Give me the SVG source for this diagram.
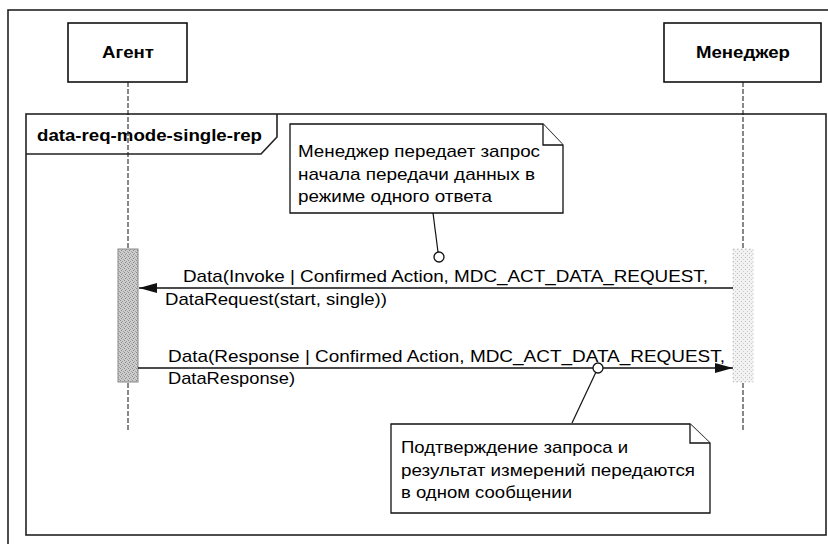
<svg xmlns="http://www.w3.org/2000/svg" width="828" height="544" viewBox="0 0 828 544">
<style>
.frame{fill:none;stroke:#222;stroke-width:1.6}
.box{fill:#fff;stroke:#111;stroke-width:1.6}
.life{stroke:#111;stroke-width:1;stroke-dasharray:5 2;fill:none}
.msg{stroke:#111;stroke-width:1.4;fill:none}
.note{fill:#fff;stroke:#111;stroke-width:1.3}
.lbl{font-family:"Liberation Sans",Arial,sans-serif;font-size:17px;fill:#000}
.bold{font-family:"Liberation Sans",Arial,sans-serif;font-size:16px;font-weight:bold;fill:#000}
.anchor{fill:#fff;stroke:#111;stroke-width:1.3}
.link{stroke:#111;stroke-width:1.2;fill:none}
</style>
<defs>
<pattern id="hatch" width="4" height="4" patternUnits="userSpaceOnUse">
<rect width="4" height="4" fill="#cdcdcd"/>
<rect x="0" y="0" width="1" height="1" fill="#8a8a8a"/>
<rect x="2" y="1" width="1" height="1" fill="#9a9a9a"/>
<rect x="1" y="2" width="1" height="1" fill="#888"/>
<rect x="3" y="3" width="1" height="1" fill="#a0a0a0"/>
</pattern>
<pattern id="dots" width="4" height="4" patternUnits="userSpaceOnUse">
<rect width="4" height="4" fill="#f2f2f2"/>
<rect x="1" y="1" width="1" height="1" fill="#bbb"/>
<rect x="3" y="3" width="1" height="1" fill="#ccc"/>
</pattern>
<marker id="arr" viewBox="0 0 18 10" refX="18" refY="5" markerWidth="18" markerHeight="10" markerUnits="userSpaceOnUse" orient="auto">
<path d="M0 0L18 5L0 10Z" fill="#111"/>
</marker>
</defs>

<rect class="frame" x="8" y="10" width="830" height="545"/>

<g id="agent">
<rect class="box" x="68" y="23" width="119" height="59"/>
<text class="bold" x="102" y="58" textLength="52" lengthAdjust="spacingAndGlyphs">Агент</text>
</g>
<g id="manager">
<rect class="box" x="664" y="23" width="157" height="59"/>
<text class="bold" x="696" y="58" textLength="94" lengthAdjust="spacingAndGlyphs">Менеджер</text>
</g>

<g id="fragment">
<rect class="frame" x="26" y="114" width="800" height="421"/>
<path class="frame" d="M26 154H261L277 137V114"/>
<text class="bold" x="37" y="141" textLength="225" lengthAdjust="spacingAndGlyphs">data-req-mode-single-rep</text>
</g>

<g id="lifelines">
<line class="life" x1="128" y1="82" x2="128" y2="430"/>
<line class="life" x1="743" y1="82" x2="743" y2="430"/>
</g>

<g id="agent-activation">
<rect x="118" y="249" width="20" height="133" fill="url(#hatch)" stroke="#888" stroke-width="1"/>
</g>
<g id="manager-activation">
<rect x="733" y="249" width="20" height="133" fill="url(#dots)" stroke="#ccc" stroke-width="0.8" stroke-dasharray="2 2"/>
</g>

<g id="connectors">
<line class="msg" x1="733" y1="288" x2="139" y2="288" marker-end="url(#arr)"/>
<line class="msg" x1="138" y1="368" x2="733" y2="368" marker-end="url(#arr)"/>
<line class="link" x1="433" y1="213" x2="438" y2="252"/>
<line class="link" x1="596" y1="372" x2="572" y2="423"/>
<circle class="anchor" cx="439" cy="257" r="5"/>
<circle class="anchor" cx="598" cy="368" r="5"/>
</g>

<g id="msg-labels">
<text class="lbl" x="183" y="282" textLength="525" lengthAdjust="spacingAndGlyphs">Data(Invoke | Confirmed Action, MDC_ACT_DATA_REQUEST,</text>
<text class="lbl" x="165" y="305" textLength="222" lengthAdjust="spacingAndGlyphs">DataRequest(start, single))</text>
<text class="lbl" x="168" y="362" textLength="557" lengthAdjust="spacingAndGlyphs">Data(Response | Confirmed Action, MDC_ACT_DATA_REQUEST,</text>
<text class="lbl" x="168" y="384" textLength="127" lengthAdjust="spacingAndGlyphs">DataResponse)</text>
</g>

<g id="note1">
<path class="note" d="M290 124H543L563 145V213H290Z"/>
<path class="note" d="M543 124V145H563" fill="none"/>
<text class="lbl" x="298" y="157" textLength="242" lengthAdjust="spacingAndGlyphs">Менеджер передает запрос</text>
<text class="lbl" x="298" y="180" textLength="237" lengthAdjust="spacingAndGlyphs">начала передачи данных в</text>
<text class="lbl" x="298" y="202" textLength="194" lengthAdjust="spacingAndGlyphs">режиме одного ответа</text>
</g>

<g id="note2">
<path class="note" d="M391 424H690L710 443V513H391Z"/>
<path class="note" d="M690 424V443H710" fill="none"/>
<text class="lbl" x="401" y="453" textLength="227" lengthAdjust="spacingAndGlyphs">Подтверждение запроса и</text>
<text class="lbl" x="401" y="476" textLength="294" lengthAdjust="spacingAndGlyphs">результат измерений передаются</text>
<text class="lbl" x="401" y="498" textLength="171" lengthAdjust="spacingAndGlyphs">в одном сообщении</text>
</g>
</svg>
